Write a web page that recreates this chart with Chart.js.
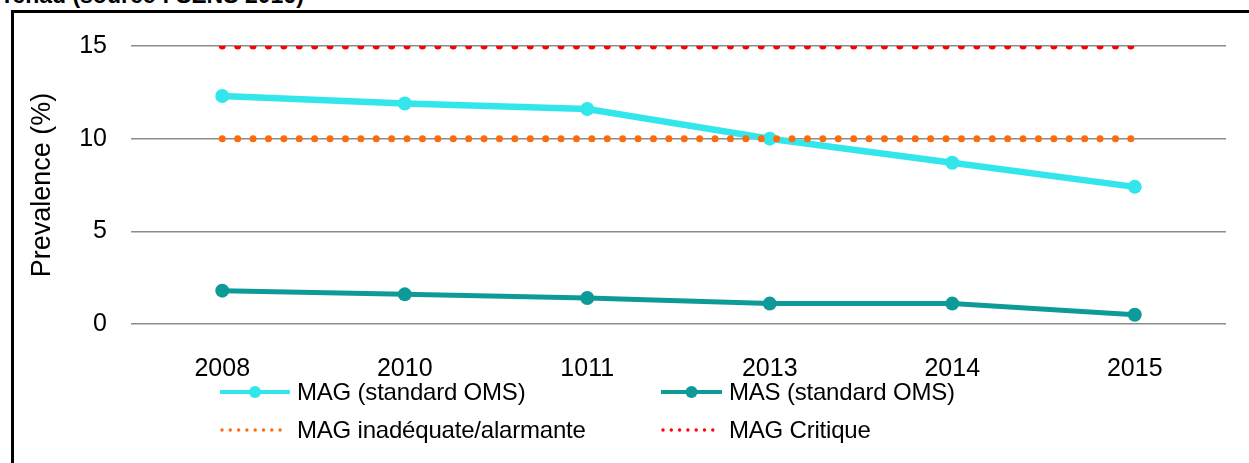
<!DOCTYPE html>
<html>
<head>
<meta charset="utf-8">
<script src="https://cdn.jsdelivr.net/npm/chart.js@4/dist/chart.umd.min.js"></script>
<style>
  html, body { margin: 0; padding: 0; background: #fff; overflow: hidden; }
  body { width: 1249px; height: 463px; position: relative; font-family: "Liberation Sans", Arial, sans-serif; }
  #titre { position: absolute; left: 0; top: -16px; font: bold 23px/23px "Liberation Sans", Arial, sans-serif; color: #000; white-space: nowrap; }
  #cadre { position: absolute; left: 11px; top: 10px; width: 1260px; height: 480px; border: 3px solid #000; box-sizing: border-box; }
  #wrap { position: absolute; left: 0; top: 0; width: 1249px; height: 463px; }
  .leg { position: absolute; display: flex; align-items: center; font-size: 24px; color: #000; white-space: nowrap; letter-spacing: -0.2px; }
  .leg svg { margin-right: 7px; }
</style>
</head>
<body>
<div id="titre">Tchad (source : SENS 2016)</div>
<div id="cadre"></div>
<div id="wrap"><canvas id="graphique" width="1249" height="463"></canvas></div>
<div id="legende"></div>
<script>
// Catégories (années) et valeurs
const annees = ["2008", "2010", "1011", "2013", "2014", "2015"];
const magOMS = [12.3, 11.9, 11.6, 10.0, 8.7, 7.4];
const masOMS = [1.8, 1.6, 1.4, 1.1, 1.1, 0.5];
const seuilAlarmant = [10, 10, 10, 10, 10, 10];
const seuilCritique = [15, 15, 15, 15, 15, 15];
const ticksY = [0, 5, 10, 15];

const couleurs = {
    mag: "#33E6EC",
    mas: "#0E9B98",
    alarme: "#FF6A0A",
    critique: "#FF0000"
};

const ctx = document.getElementById('graphique').getContext('2d');
const graphique = new Chart(ctx, {
    type: 'line',
    data: {
        labels: annees,
        datasets: [
            {
                label: "MAG (standard OMS)",
                data: magOMS,
                borderColor: couleurs.mag,
                backgroundColor: couleurs.mag,
                borderWidth: 6.5,
                pointRadius: 7,
                pointBorderWidth: 0,
                tension: 0,
                order: 2
            },
            {
                label: "MAS (standard OMS)",
                data: masOMS,
                borderColor: couleurs.mas,
                backgroundColor: couleurs.mas,
                borderWidth: 5,
                pointRadius: 7,
                pointBorderWidth: 0,
                tension: 0,
                order: 3
            },
            {
                label: "MAG inadéquate/alarmante",
                data: seuilAlarmant,
                borderColor: couleurs.alarme,
                borderWidth: 7,
                borderDash: [0, 15.4],
                borderCapStyle: 'round',
                pointRadius: 0,
                order: 0
            },
            {
                label: "MAG Critique",
                data: seuilCritique,
                borderColor: couleurs.critique,
                borderWidth: 7,
                borderDash: [0, 15.4],
                borderCapStyle: 'round',
                pointRadius: 0,
                order: 1
            }
        ]
    },
    options: {
        responsive: false,
        animation: false,
        layout: {
            padding: { left: 20, right: 23, top: 46, bottom: 0 }
        },
        plugins: {
            legend: { display: false },
            tooltip: { enabled: false }
        },
        scales: {
            x: {
                offset: true,
                grid: { display: false, drawTicks: false },
                border: { display: false },
                ticks: {
                    color: '#000',
                    padding: 30,
                    maxRotation: 0,
                    font: { family: '"Liberation Sans", Arial, sans-serif', size: 25 }
                },
                afterFit: function(scale) { scale.height = 139; }
            },
            y: {
                min: 0,
                max: 15,
                afterBuildTicks: function(scale) {
                    scale.ticks = ticksY.map(v => ({ value: v }));
                },
                grid: { color: '#8c8c8c', lineWidth: 1.5, drawTicks: false },
                border: { display: false },
                ticks: {
                    color: '#000',
                    padding: 24,
                    font: { family: '"Liberation Sans", Arial, sans-serif', size: 25 }
                },
                title: {
                    display: true,
                    text: 'Prevalence (%)',
                    color: '#000',
                    padding: { top: 6, bottom: 0 },
                    font: { family: '"Liberation Sans", Arial, sans-serif', size: 27, weight: 'normal' }
                },
                afterFit: function(scale) { scale.width = 111; }
            }
        }
    }
});

// Légende sur deux colonnes, construite à partir des jeux de données
const positionsLegende = [
    { x: 220, y: 392, w: 70 },
    { x: 661, y: 392, w: 61 },
    { x: 220, y: 430, w: 70 },
    { x: 661, y: 430, w: 61 }
];
const legende = document.getElementById('legende');
graphique.data.datasets.forEach((ds, i) => {
    const p = positionsLegende[i];
    const el = document.createElement('div');
    el.className = 'leg';
    el.style.left = p.x + 'px';
    el.style.top = (p.y - 15) + 'px';
    el.style.height = '30px';
    let svg;
    if (ds.borderDash) {
        let points = '';
        for (let x = 2; x <= p.w - 2; x += 8.3) {
            points += `<circle cx="${x}" cy="15" r="1.7" fill="${ds.borderColor}"/>`;
        }
        svg = `<svg width="${p.w}" height="30">${points}</svg>`;
    } else {
        svg = `<svg width="${p.w}" height="30"><line x1="0" y1="15" x2="${p.w}" y2="15" stroke="${ds.borderColor}" stroke-width="4"/>` +
              `<circle cx="${p.w / 2}" cy="15" r="6" fill="${ds.borderColor}"/></svg>`;
    }
    el.innerHTML = svg + '<span>' + ds.label + '</span>';
    legende.appendChild(el);
});
</script>
</body>
</html>
